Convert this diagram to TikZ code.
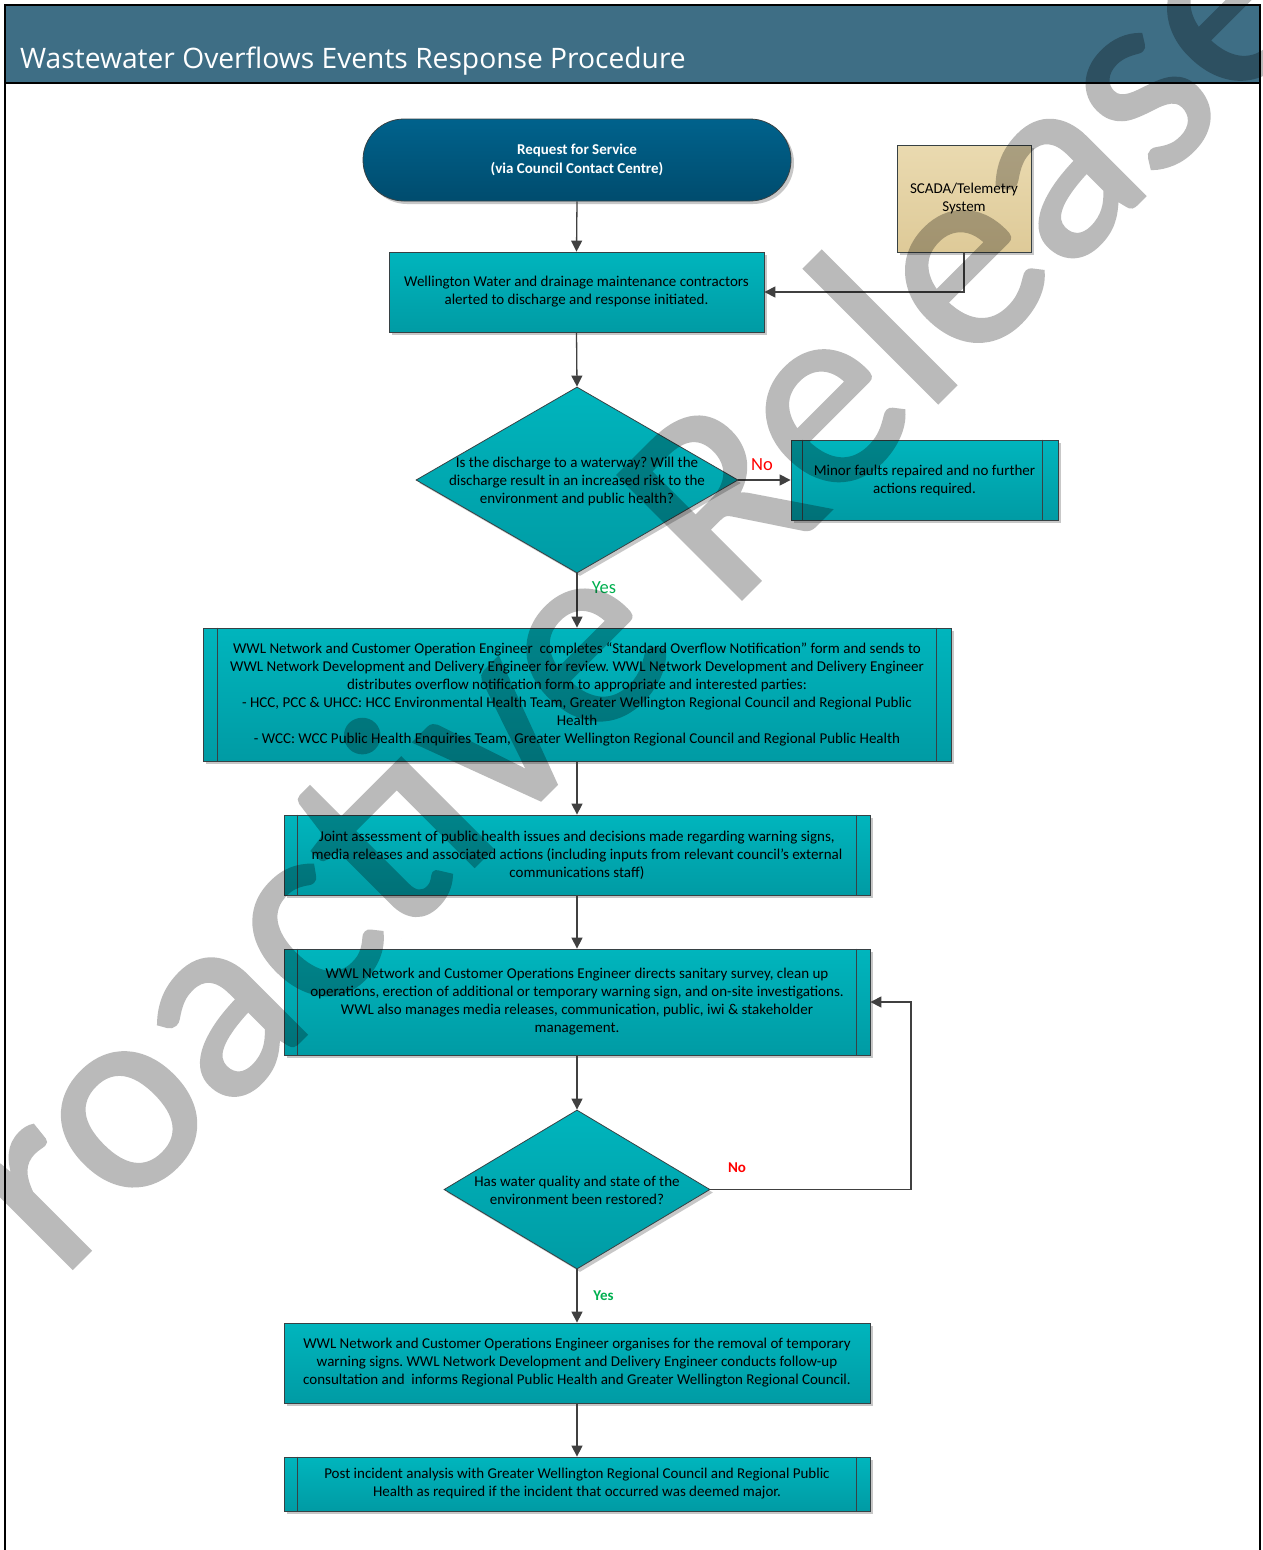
\documentclass[tikz,border=0pt]{standalone}
\usepackage{fontspec}
\setmainfont{Carlito}
\newfontfamily\titlefont{Open Sans}
\newfontfamily\wmfont{Carlito}[UprightFeatures={FakeBold=1.5}]
\usetikzlibrary{shapes.geometric,arrows.meta,shadows,calc}
\definecolor{hdr}{RGB}{62,110,133}
\definecolor{tealtop}{RGB}{0,181,189}
\definecolor{tealbot}{RGB}{0,155,164}
\definecolor{navytop}{RGB}{0,98,140}
\definecolor{navybot}{RGB}{0,76,110}
\definecolor{tantop}{RGB}{234,218,176}
\definecolor{tanbot}{RGB}{222,202,152}
\definecolor{boxline}{RGB}{55,65,68}
\definecolor{connc}{RGB}{64,64,64}
\definecolor{wm}{RGB}{186,186,186}
\definecolor{yesgreen}{RGB}{0,176,80}
\frenchspacing
\begin{document}
\begin{tikzpicture}[x=1pt,y=-1pt,
  shade/.style={drop shadow={shadow xshift=3pt,shadow yshift=-3pt,opacity=0.22,fill=black}},
  boxtext/.style={align=center,font=\fontsize{15}{18}\selectfont,text=black,inner sep=0pt},
  proc/.style={rectangle,draw=boxline,line width=0.8pt,top color=tealtop,bottom color=tealbot,shade,boxtext},
  decision/.style={diamond,draw=boxline,line width=0.8pt,top color=tealtop,bottom color=tealbot,shade,inner sep=0pt},
  innerline/.style={draw=boxline,line width=0.8pt},
  conn/.style={draw=connc,line width=1.3pt,-{Triangle[length=11pt,width=11pt]}},
  lbl/.style={inner sep=0pt}]
\useasboundingbox (0,0) rectangle (1262,1550);
\fill[white] (0,0) rectangle (1262,1550);
% header band and frame
\fill[hdr] (5,5) rectangle (1260,83);
\draw[line width=2.5pt] (5,1553) -- (5,5) -- (1260,5) -- (1260,1553);
\draw[line width=2.5pt] (5,83) -- (1260,83);
\node[anchor=base west,inner sep=0pt,text=white,font=\titlefont\fontsize{28.2}{28}\selectfont] (title) at (20,68) {Wastewater Overflows Events Response Procedure};

% nodes
\node[rectangle,rounded corners=41pt,draw=boxline,line width=0.8pt,top color=navytop,bottom color=navybot,shade,
      minimum width=428pt,minimum height=82pt,align=center,inner sep=0pt,text=white,
      font=\bfseries\fontsize{15}{19}\selectfont] (start) at (577,160)
  {Request for Service\\(via Council Contact Centre)};
\node[rectangle,draw=boxline,line width=0.8pt,top color=tantop,bottom color=tanbot,shade,
      minimum width=134pt,minimum height=107pt,boxtext] (scada) at (964,198.5)
  {SCADA/Telemetry\\System};
\node[proc,minimum width=375pt,minimum height=80pt] (b1) at (576.5,292)
  {Wellington Water and drainage maintenance contractors\\alerted to discharge and response initiated.};
\node[decision,minimum width=322pt,minimum height=186pt] (d1) at (577,480) {};
\node[boxtext] (d1t) at ([yshift=-1pt]d1.center)
  {Is the discharge to a waterway? Will the\\discharge result in an increased risk to the\\environment and public health?};
\node[proc,minimum width=267pt,minimum height=80pt] (minor) at (924.5,480)
  {Minor faults repaired and no further\\actions required.};
\node[proc,minimum width=748pt,minimum height=133pt] (b3) at (577,694.5)
  {WWL Network and Customer Operation Engineer\ \ completes “Standard Overflow Notification” form and sends to\\
   WWL Network Development and Delivery Engineer for review. WWL Network Development and Delivery Engineer\\
   distributes overflow notification form to appropriate and interested parties:\\
   - HCC, PCC \& UHCC: HCC Environmental Health Team, Greater Wellington Regional Council and Regional Public\\
   Health\\
   - WCC: WCC Public Health Enquiries Team, Greater Wellington Regional Council and Regional Public Health};
\node[proc,minimum width=586pt,minimum height=80pt] (b4) at (577,855)
  {Joint assessment of public health issues and decisions made regarding warning signs,\\
   media releases and associated actions (including inputs from relevant council’s external\\
   communications staff)};
\node[proc,minimum width=586pt,minimum height=106pt] (b5) at (577,1002)
  {WWL Network and Customer Operations Engineer directs sanitary survey, clean up\\
   operations, erection of additional or temporary warning sign, and on-site investigations.\\
   WWL also manages media releases, communication, public, iwi \& stakeholder\\
   management.};
\node[decision,minimum width=266pt,minimum height=159pt] (d2) at (577,1189.5) {};
\node[boxtext] (d2t) at ([yshift=-1pt]d2.center)
  {Has water quality and state of the\\environment been restored?};
\node[proc,minimum width=586pt,minimum height=80pt] (b6) at (577,1363)
  {WWL Network and Customer Operations Engineer organises for the removal of temporary\\
   warning signs. WWL Network Development and Delivery Engineer conducts follow-up\\
   consultation and\ \ informs Regional Public Health and Greater Wellington Regional Council.};
\node[proc,minimum width=586pt,minimum height=54pt] (b7) at (577,1484)
  {Post incident analysis with Greater Wellington Regional Council and Regional Public\\
   Health as required if the incident that occurred was deemed major.};

% inner lines of the predefined-process boxes
\foreach \n/\l/\r in {minor/12/16, b3/15/15, b4/14/14, b5/14/14, b7/14/14}{
  \draw[innerline] ([xshift=\l pt]\n.north west) -- ([xshift=\l pt]\n.south west);
  \draw[innerline] ([xshift=-\r pt]\n.north east) -- ([xshift=-\r pt]\n.south east);
}

% connectors
\draw[conn] (start.south) -- (b1.north);
\draw[conn] (scada.south) |- (b1.east);
\draw[conn] (b1.south) -- (d1.north);
\draw[conn] (d1.east) -- (minor.west);
\draw[conn] (d1.south) -- (b3.north);
\draw[conn] (b3.south) -- (b4.north);
\draw[conn] (b4.south) -- (b5.north);
\draw[conn] (b5.south) -- (d2.north);
\coordinate (loop) at (911,1002);
\draw[conn] (d2.east) -| (loop) -- (b5.east);
\draw[conn] (d2.south) -- (b6.north);
\draw[conn] (b6.south) -- (b7.north);

% labels
\node[lbl,text=red,font=\fontsize{18.5}{18.5}\selectfont] (no1) at (762,465) {No};
\node[lbl,text=yesgreen,font=\fontsize{18.5}{18.5}\selectfont] (yes1) at (604,588) {Yes};
\node[lbl,text=red,font=\bfseries\fontsize{15}{15}\selectfont] (no2) at (737,1168) {No};
\node[lbl,text=yesgreen,font=\bfseries\fontsize{15}{15}\selectfont] (yes2) at (603.5,1296) {Yes};

% watermark
\begin{scope}
\clip (0,0) rectangle (1262,1550);
\begin{scope}[blend mode=multiply]
\begin{scope}[transparency group]
\begin{scope}[blend mode=normal,color=wm]
\node[rotate=45,anchor=base,inner sep=0pt,color=wm,font=\wmfont\fontsize{271}{271}\selectfont] (wmark) at (643.5,696.5) {Proactive Release};
\end{scope}
\end{scope}
\end{scope}
\end{scope}
\end{tikzpicture}
\end{document}
